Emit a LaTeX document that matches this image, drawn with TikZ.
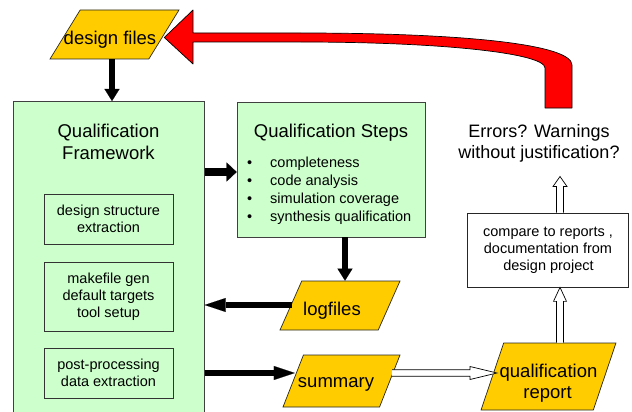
\documentclass[tikz,border=0pt]{standalone}
\usepackage{fontspec}
\setmainfont{Liberation Sans}
\usetikzlibrary{arrows.meta,shapes.geometric,calc}
\definecolor{gold}{HTML}{FFCC00}
\definecolor{mint}{HTML}{CCFFCC}
\begin{document}
\begin{tikzpicture}[x=1pt,y=-1pt,
  big/.style={font=\fontsize{18.5}{21}\selectfont},
  small/.style={font=\fontsize{14.5}{17}\selectfont},
  data/.style={trapezium, trapezium stretches=true, draw=black!85, line width=0.7pt,
    fill=gold, inner sep=0pt},
  datatext/.style={big, anchor=base, inner sep=0pt},
  smalltext/.style={small, anchor=base, inner sep=0pt},
  greenbox/.style={draw=black!75, line width=0.7pt, fill=mint},
  subbox/.style={draw=black!80, line width=0.7pt, minimum width=129pt, small,
    align=center, inner sep=0pt},
  blk/.style={line width=6pt, -{Triangle[length=12pt,width=15pt,line width=0.1pt]}},
  blkwide/.style={line width=7.5pt, -{Triangle[length=10pt,width=19pt,line width=0.1pt]}},
  blklong/.style={line width=5.5pt, -{Triangle[length=21pt,width=14pt,line width=0.1pt]}},
  hollow/.style={draw=black, line width=0.7pt, fill=white, line join=miter}
]
\useasboundingbox (0,0) rectangle (632,412);

% framework
\node[greenbox, minimum width=191pt, minimum height=330pt, anchor=north west] (fw) at (13,101) {};
\node[big, anchor=base] (fwt1) at (108.5,137) {Qualification};
\node[big, anchor=base] (fwt2) at (108.5,159) {Framework};
\node[subbox, minimum height=50pt] (s1) at (108.5,219) {design structure\\extraction};
\node[subbox, minimum height=69pt] (s2) at (108.5,296.5) {makefile gen\\default targets\\tool setup};
\node[subbox, minimum height=50pt] (s3) at (108.5,373) {post-processing\\data extraction};

% steps
\node[greenbox, minimum width=188pt, minimum height=135pt] (steps) at (331,169.5) {};
\node[big, anchor=base] (stt) at (331,137) {Qualification Steps};
\foreach \t [count=\i] in {completeness, code analysis, simulation coverage, synthesis qualification}{
  \node[small, anchor=base west, inner sep=0pt] (b\i) at (247,149+18*\i) {•};
  \node[small, anchor=base west, inner sep=0pt] (l\i) at (270,149+18*\i) {\t};
}

% data shapes
\node[data, minimum width=129pt, minimum height=49pt, trapezium left angle=62,
  trapezium right angle=118] (df) at (114.5,34.5) {\phantom{M}};
\node[datatext] (dft) at (110,44.5) {design files};
\node[data, minimum width=120pt, minimum height=49pt, trapezium left angle=71,
  trapezium right angle=109] (lg) at (340,305.5) {\phantom{M}};
\node[datatext] (lgt) at (332,315) {logfiles};
\node[data, minimum width=117pt, minimum height=52pt, trapezium left angle=72,
  trapezium right angle=108] (sum) at (341.5,381) {\phantom{M}};
\node[datatext] (sumt) at (336,387) {summary};
\node[data, minimum width=135pt, minimum height=67pt, trapezium left angle=73,
  trapezium right angle=107] (rep) at (548.5,376.5) {\phantom{M}};
\node[datatext] (rept1) at (548.5,377) {qualification};
\node[datatext] (rept2) at (547.5,398) {report};

% compare box and question
\node[draw=black!85, line width=0.7pt, fill=white, minimum width=161pt, minimum height=74pt,
  inner sep=0pt] (cmp) at (547.5,250) {};
\node[smalltext] (cmp1) at (548,236) {compare to reports ,};
\node[smalltext] (cmp2) at (548,253) {documentation from};
\node[smalltext] (cmp3) at (548.5,270) {design project};
\node[font=\fontsize{18}{21}\selectfont, anchor=base] (err1) at (539,137) {Errors? Warnings};
\node[font=\fontsize{18}{21}\selectfont, anchor=base] (err2) at (539,158) {without justification?};

% helper coordinates
\coordinate (x112) at (112,0);
\coordinate (x345) at (345,0);
\coordinate (y373) at (0,373);
\coordinate (y305) at (0,305);
\coordinate (y172) at (0,172);
\coordinate (x560) at (560,0);
\coordinate (errtip) at (560,176.5);

% black connectors
\draw[blk] (df.south -| x112) -- (fw.north -| x112);
\draw[blkwide] (fw.east |- y172) -- (steps.west |- y172);
\draw[blk] (steps.south -| x345) -- (lg.north -| x345);
\draw[blklong] ([xshift=1pt]lg.west |- y305) -- (fw.east |- y305);
\draw[blklong] (fw.east |- y373) -- ([xshift=2pt]sum.west |- y373);

% hollow connectors
\draw[hollow] let \p1=([xshift=2pt]sum.east |- y373), \p2=([xshift=5pt]rep.west |- y373) in
  (\x1,\y1+3.3pt) -- (\x2-27pt,\y1+3.3pt) -- (\x2-27pt,\y1+6.5pt) -- (\x2,\y1)
  -- (\x2-27pt,\y1-6.5pt) -- (\x2-27pt,\y1-3.3pt) -- (\x1,\y1-3.3pt);
\draw[hollow] let \p1=(rep.north -| x560), \p2=(cmp.south -| x560) in
  (\x1-3.5pt,\y1) -- (\x1-3.5pt,\y2-14pt) -- (\x1-6.5pt,\y2-14pt) -- (\x1,\y2)
  -- (\x1+6.5pt,\y2-14pt) -- (\x1+3.5pt,\y2-14pt) -- (\x1+3.5pt,\y1);
\draw[hollow] let \p1=(cmp.north -| x560), \p2=(errtip) in
  (\x1-3.5pt,\y1) -- (\x1-3.5pt,\y2-10pt) -- (\x1-7pt,\y2-10pt) -- (\x1,\y2)
  -- (\x1+7pt,\y2-10pt) -- (\x1+3.5pt,\y2-10pt) -- (\x1+3.5pt,\y1);

% red feedback arrow
\draw[fill=red, draw=black, line width=0.7pt, line join=round]
  (df.east) ++(0,3) coordinate (redtip)
  (redtip) -- (193,10) -- (193,33) -- (300,33)
  .. controls (470,33) and (572,45) .. (572,65) -- (572,108) -- (545,108) -- (545,68)
  .. controls (545,53) and (440,42) .. (300,42) -- (193,42) -- (193,64) -- cycle;
\end{tikzpicture}
\end{document}
